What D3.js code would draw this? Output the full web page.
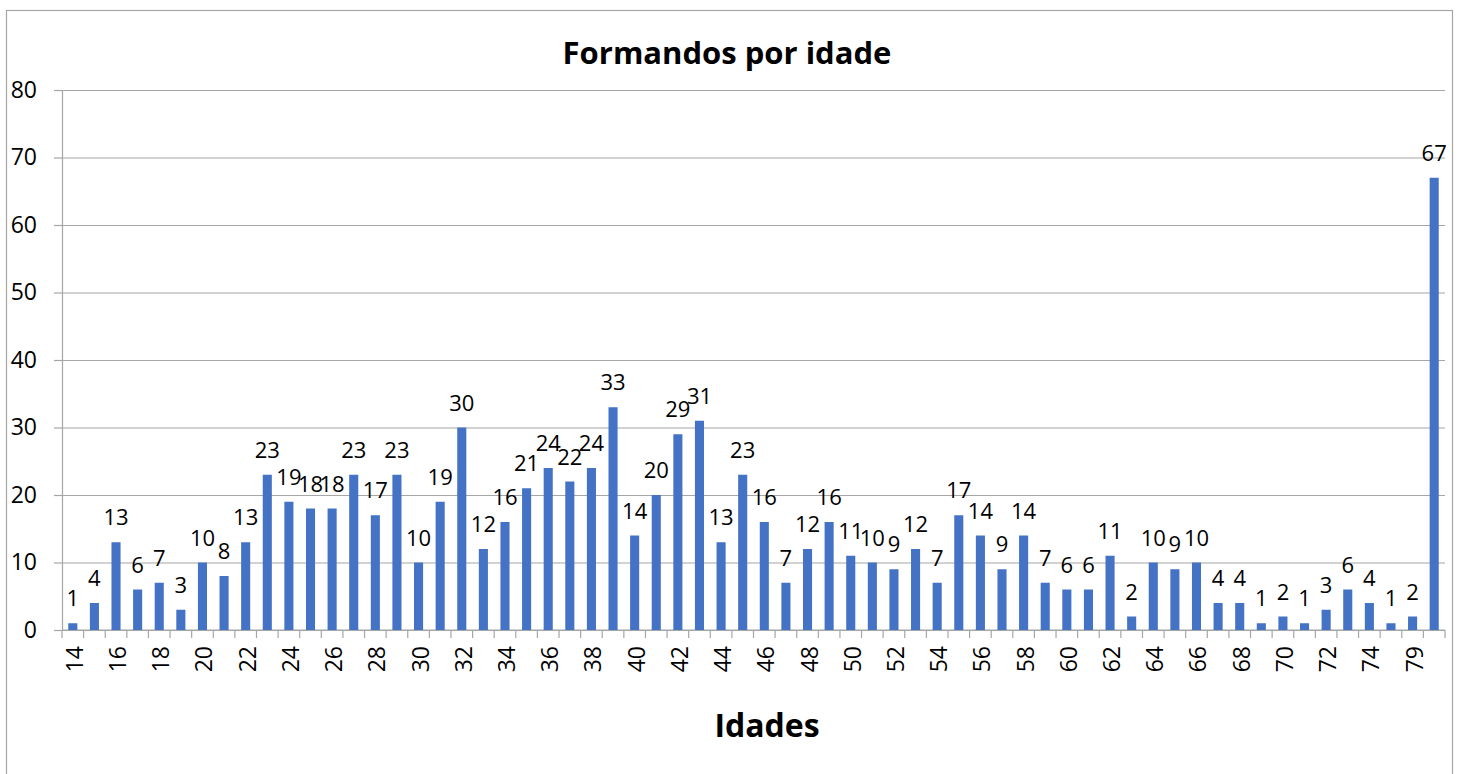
<!DOCTYPE html>
<html>
<head>
<meta charset="utf-8">
<script src="https://cdn.jsdelivr.net/npm/d3@7"></script>
<style>
body { margin: 0; background: #fff; }
svg { display: block; font-family: "Open Sans", Lato, sans-serif; }
</style>
</head>
<body>
<div id="chart"></div>
<script>
// idades (categorias) e numero de formandos
let ages = ["14","15","16","17","18","19","20","21","22","23","24","25","26","27","28","29","30",
    "31","32","33","34","35","36","37","38","39","40","41","42","43","44","45","46","47","48","49",
    "50","51","52","53","54","55","56","57","58","59","60","61","62","63","64","65","66","67","68",
    "69","70","71","72","73","74","77","79","80"];
let counts = [1,4,13,6,7,3,10,8,13,23,19,18,18,23,17,23,10,19,30,12,16,21,24,22,24,33,14,20,29,31,
    13,23,16,7,12,16,11,10,9,12,7,17,14,9,14,7,6,6,11,2,10,9,10,4,4,1,2,1,3,6,4,1,2,67];
let yTicks = [0,10,20,30,40,50,60,70,80];

let width = 1459, height = 774;
let margin = ({top: 90, right: 14, bottom: 144, left: 62});

let svg = d3.select("#chart").append("svg")
    .attr("width", width)
    .attr("height", height);

// moldura do grafico
svg.append("rect")
    .attr("x", 6.5).attr("y", 10.5)
    .attr("width", 1446).attr("height", 800)
    .attr("fill", "#fff")
    .attr("stroke", "#a6a6a6")
    .attr("stroke-width", 1.2);

let x = d3.scaleBand()
    .domain(ages)
    .range([margin.left, width - margin.right])
    .paddingInner(0.58)
    .paddingOuter(0.29);
let y = d3.scaleLinear()
    .domain([0, 80])
    .range([height - margin.bottom, margin.top]);

// grelha + eixo y
let y_axis = g => g
    .attr("transform", `translate(${margin.left}, 0)`)
    .call(d3.axisLeft(y).tickValues(yTicks).tickSize(8).tickPadding(17))
    .call(g => g.select(".domain").attr("stroke", "#a6a6a6").attr("stroke-width", 1.2))
    .call(g => g.selectAll(".tick line").clone()
        .attr("x2", width - margin.right - margin.left)
        .attr("x1", 0))
    .call(g => g.selectAll(".tick line").attr("stroke", "#a6a6a6").attr("stroke-width", 1.2))
    .call(g => g.selectAll(".tick text")
        .attr("font-size", 23)
        .attr("fill", "#000")
        .attr("font-family", "'Open Sans', sans-serif"));
svg.append("g").call(y_axis);

// eixo x: marcas nos limites das categorias
let x_axis = g => g
    .attr("transform", `translate(0, ${y(0)})`)
    .call(g => g.append("line")
        .attr("x1", margin.left).attr("x2", width - margin.right)
        .attr("stroke", "#a6a6a6").attr("stroke-width", 1.2))
    .call(g => g.selectAll(".bnd")
        .data(ages.map((d, i) => i).concat([ages.length]))
        .join("line")
        .attr("class", "bnd")
        .attr("x1", i => margin.left + i * x.step())
        .attr("x2", i => margin.left + i * x.step())
        .attr("y1", 0).attr("y2", 8)
        .attr("stroke", "#a6a6a6").attr("stroke-width", 1.2))
    .call(g => g.selectAll(".lbl")
        .data(ages.filter((d, i) => i % 2 == 0))
        .join("text")
        .attr("class", "lbl")
        .attr("transform", d => `translate(${x(d) + x.bandwidth() / 2 + 1}, 16) rotate(-90)`)
        .attr("text-anchor", "end")
        .attr("dominant-baseline", "central")
        .attr("font-size", 23)
        .text(d => d));
svg.append("g").call(x_axis);

// barras
svg.append("g")
    .selectAll("rect")
    .data(counts)
    .join("rect")
    .attr("x", (d, i) => x(ages[i]))
    .attr("y", d => y(d))
    .attr("width", x.bandwidth())
    .attr("height", d => y(0) - y(d))
    .attr("fill", "#4472c4");

// rotulos de dados
svg.append("g")
    .selectAll("text")
    .data(counts)
    .join("text")
    .attr("x", (d, i) => x(ages[i]) + x.bandwidth() / 2)
    .attr("y", d => y(d) - 17)
    .attr("text-anchor", "middle")
    .attr("font-size", 22)
    .text(d => d);

// titulos
svg.append("text")
    .attr("x", 727).attr("y", 64)
    .attr("text-anchor", "middle")
    .attr("font-size", 31)
    .attr("font-weight", "bold")
    .text("Formandos por idade");

svg.append("text")
    .attr("x", 767).attr("y", 737)
    .attr("text-anchor", "middle")
    .attr("font-size", 32)
    .attr("font-weight", "bold")
    .text("Idades");
</script>
</body>
</html>
